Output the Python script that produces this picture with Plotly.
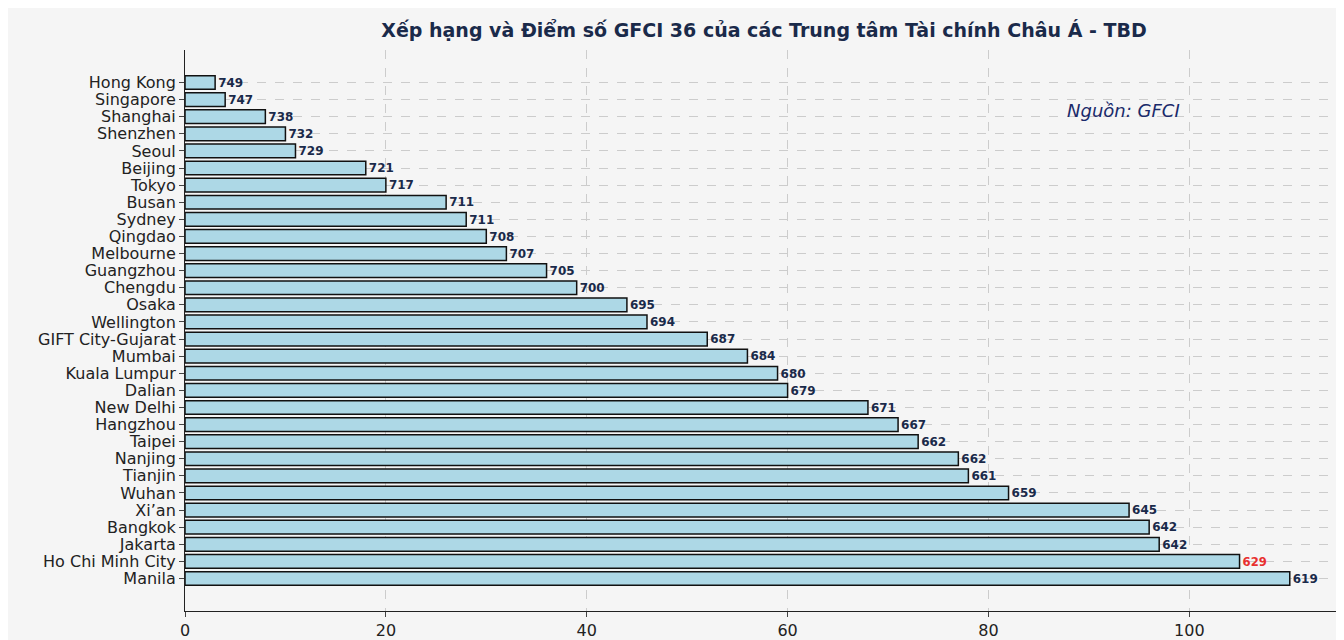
import plotly.graph_objects as go

cities = ["Hong Kong","Singapore","Shanghai","Shenzhen","Seoul","Beijing","Tokyo","Busan","Sydney","Qingdao",
          "Melbourne","Guangzhou","Chengdu","Osaka","Wellington","GIFT City-Gujarat","Mumbai","Kuala Lumpur","Dalian","New Delhi",
          "Hangzhou","Taipei","Nanjing","Tianjin","Wuhan","Xi’an","Bangkok","Jakarta","Ho Chi Minh City","Manila"]
ranks = [3,4,8,10,11,18,20,26,28,30,32,36,39,44,46,52,56,59,60,68,71,73,77,78,82,94,96,97,105,110]
scores = [749,747,738,732,729,721,717,711,711,708,707,705,700,695,694,687,684,680,679,671,667,662,662,661,659,645,642,642,629,619]

idx = list(range(len(cities)))
text = [f"<span style='color:#e8302f;font-size:17px'>{s}</span>" if c == "Ho Chi Minh City" else str(s)
        for c, s in zip(cities, scores)]

fig = go.Figure(go.Bar(
    x=ranks, y=idx, orientation="h", width=0.8,
    marker=dict(color="#add8e6", line=dict(color="#111111", width=1.5)),
    text=text, textposition="outside", cliponaxis=False,
    textfont=dict(family="DejaVu Sans", size=14, color="#1a2a4a", weight="bold"),
))
fig.update_layout(
    width=1344, height=640, paper_bgcolor="#f5f5f5", plot_bgcolor="#f5f5f5",
    margin=dict(l=177, r=8, t=42, b=30), showlegend=False,
    title=dict(text="<b>Xếp hạng và Điểm số GFCI 36 của các Trung tâm Tài chính Châu Á - TBD</b>",
               x=0.5625, xanchor="center", y=0.975, yanchor="top",
               font=dict(family="DejaVu Sans", size=19, color="#1a2a4a")),
    font=dict(family="DejaVu Sans", size=16, color="#222"),
)
fig.update_xaxes(range=[0, 115.4], tickvals=[0,20,40,60,80,100], showgrid=True, gridcolor="#cccccc",
                 griddash="dash", showline=True, linecolor="#222", ticks="outside", zeroline=False,
                 tickfont=dict(size=16))
fig.update_yaxes(range=[30.9, -1.9], tickvals=idx, ticktext=cities, showgrid=True, gridcolor="#cccccc",
                 griddash="dash", showline=True, linecolor="#222", ticks="outside", zeroline=False,
                 tickfont=dict(size=16))
fig.add_annotation(text="<i>Nguồn: GFCI</i>", xref="paper", yref="paper", x=0.86, y=0.915,
                   showarrow=False, font=dict(family="DejaVu Sans", size=18, color="#1a2a6a"))
fig.write_html("out.html")
